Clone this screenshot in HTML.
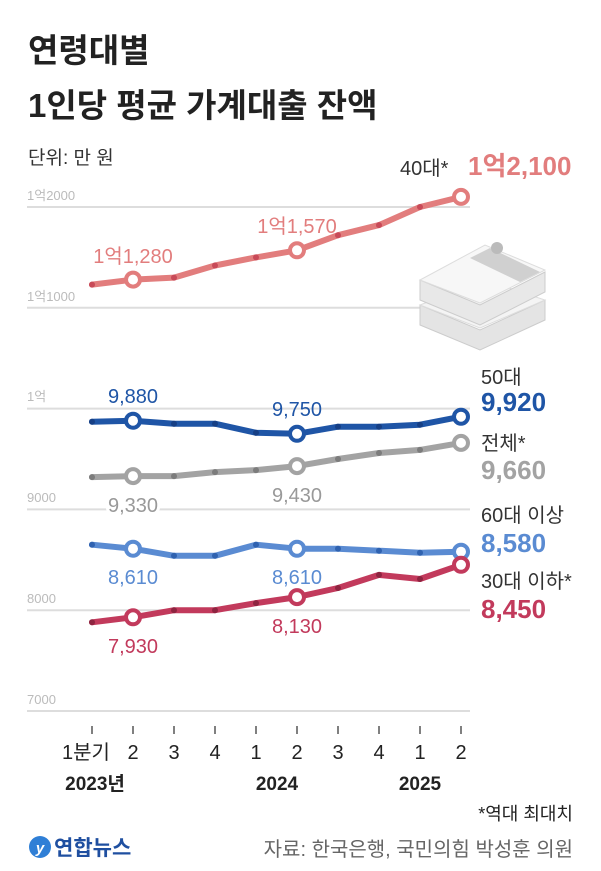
<!DOCTYPE html>
<html><head><meta charset="utf-8"><style>
body{margin:0;background:#fff;}
svg{display:block;font-family:"Liberation Sans","Noto Sans CJK KR",sans-serif;}
</style></head><body>
<svg width="601" height="871" viewBox="0 0 601 871">
<text x="28" y="62" font-size="33" font-weight="bold" fill="#222">연령대별</text>
<text x="28" y="117" font-size="33" font-weight="bold" fill="#222">1인당 평균 가계대출 잔액</text>
<text x="28" y="164" font-size="19" fill="#333">단위: 만 원</text>
<g stroke="#ddd" stroke-width="2">
<line x1="27" y1="207" x2="470" y2="207"/><line x1="27" y1="307.8" x2="420" y2="307.8"/>
<line x1="27" y1="408.6" x2="470" y2="408.6"/><line x1="27" y1="509.4" x2="470" y2="509.4"/>
<line x1="27" y1="610.2" x2="470" y2="610.2"/><line x1="27" y1="711" x2="470" y2="711"/>
</g>
<g font-size="13" fill="#bbb">
<text x="27" y="200">1억2000</text><text x="27" y="301">1억1000</text><text x="27" y="401">1억</text>
<text x="27" y="502">9000</text><text x="27" y="603">8000</text><text x="27" y="704">7000</text>
</g>
<!-- money icon -->
<g>
<polygon points="420,305 480,330 545,300 545,320 480,350 420,325" fill="#e4e4e4" stroke="#ccc"/>
<polygon points="420,305 485,280 545,300 480,328" fill="#f4f4f4" stroke="#ddd"/>
<polygon points="420,280 480,305 545,272 545,292 480,325 420,300" fill="#e8e8e8" stroke="#ccc"/>
<polygon points="420,280 485,245 545,270 480,303" fill="#f7f7f7" stroke="#ddd"/>
<polygon points="470,258 490,248 540,272 520,282" fill="#d0d0d0"/>
<circle cx="497" cy="248" r="6" fill="#bbb"/>
</g>
<g fill="none" stroke-width="6" stroke-linejoin="round" stroke-linecap="round">
<polyline stroke="#e27d7d" points="92,284.6 133,279.6 174,277.6 215,265.5 256,257.4 297,250.3 338,235.2 379,225.1 420,207 461,196.9"/>
<polyline stroke="#1f55a6" points="92,421.7 133,420.7 174,423.7 215,423.7 256,432.8 297,433.8 338,426.7 379,426.7 420,424.7 461,416.7"/>
<polyline stroke="#a3a3a3" points="92,477.1 133,476.1 174,476.1 215,472.1 256,470.1 297,466.1 338,459 379,453 420,449.9 461,442.9"/>
<polyline stroke="#5a8bd2" points="92,544.7 133,548.7 174,555.8 215,555.8 256,544.7 297,548.7 338,548.7 379,550.7 420,552.7 461,551.7"/>
<polyline stroke="#c23a5c" points="92,622.3 133,617.3 174,610.2 215,610.2 256,603.1 297,597.1 338,588 379,574.9 420,579 461,564.8"/>
</g>
<g r="3">
<g fill="#c84a58"><circle cx="92" cy="284.6" r="3"/><circle cx="174" cy="277.6" r="3"/><circle cx="215" cy="265.5" r="3"/><circle cx="256" cy="257.4" r="3"/><circle cx="338" cy="235.2" r="3"/><circle cx="379" cy="225.1" r="3"/><circle cx="420" cy="207" r="3"/></g>
<g fill="#163f85"><circle cx="92" cy="421.7" r="3"/><circle cx="174" cy="423.7" r="3"/><circle cx="215" cy="423.7" r="3"/><circle cx="256" cy="432.8" r="3"/><circle cx="338" cy="426.7" r="3"/><circle cx="379" cy="426.7" r="3"/><circle cx="420" cy="424.7" r="3"/></g>
<g fill="#7c7c7c"><circle cx="92" cy="477.1" r="3"/><circle cx="174" cy="476.1" r="3"/><circle cx="215" cy="472.1" r="3"/><circle cx="256" cy="470.1" r="3"/><circle cx="338" cy="459" r="3"/><circle cx="379" cy="453" r="3"/><circle cx="420" cy="449.9" r="3"/></g>
<g fill="#2f62b0"><circle cx="92" cy="544.7" r="3"/><circle cx="174" cy="555.8" r="3"/><circle cx="215" cy="555.8" r="3"/><circle cx="256" cy="544.7" r="3"/><circle cx="338" cy="548.7" r="3"/><circle cx="379" cy="550.7" r="3"/><circle cx="420" cy="552.7" r="3"/></g>
<g fill="#8e2440"><circle cx="92" cy="622.3" r="3"/><circle cx="174" cy="610.2" r="3"/><circle cx="215" cy="610.2" r="3"/><circle cx="256" cy="603.1" r="3"/><circle cx="338" cy="588" r="3"/><circle cx="379" cy="574.9" r="3"/><circle cx="420" cy="579" r="3"/></g>
</g>
<g fill="#fff" stroke-width="4">
<g stroke="#e27d7d"><circle cx="133" cy="279.6" r="7"/><circle cx="297" cy="250.3" r="7"/><circle cx="461" cy="196.9" r="7"/></g>
<g stroke="#1f55a6"><circle cx="133" cy="420.7" r="7"/><circle cx="297" cy="433.8" r="7"/><circle cx="461" cy="416.7" r="7"/></g>
<g stroke="#a3a3a3"><circle cx="133" cy="476.1" r="7"/><circle cx="297" cy="466.1" r="7"/><circle cx="461" cy="442.9" r="7"/></g>
<g stroke="#5a8bd2"><circle cx="133" cy="548.7" r="7"/><circle cx="297" cy="548.7" r="7"/><circle cx="461" cy="551.7" r="7"/></g>
<g stroke="#c23a5c"><circle cx="133" cy="617.3" r="7"/><circle cx="297" cy="597.1" r="7"/><circle cx="461" cy="564.8" r="7"/></g>
</g>
<g font-size="20" text-anchor="middle">
<text x="133" y="263" fill="#e27d7d">1억1,280</text>
<text x="297" y="233" fill="#e27d7d">1억1,570</text>
<text x="133" y="403" fill="#1f55a6">9,880</text>
<text x="297" y="416" fill="#1f55a6">9,750</text>
<text x="133" y="512" fill="#999" stroke="#fff" stroke-width="6" paint-order="stroke">9,330</text>
<text x="297" y="502" fill="#999" stroke="#fff" stroke-width="6" paint-order="stroke">9,430</text>
<text x="133" y="584" fill="#5a8bd2">8,610</text>
<text x="297" y="584" fill="#5a8bd2">8,610</text>
<text x="133" y="653" fill="#c23a5c">7,930</text>
<text x="297" y="633" fill="#c23a5c">8,130</text>
</g>
<text x="400" y="175" font-size="20" fill="#333">40대*</text>
<text x="468" y="175" font-size="26" font-weight="bold" fill="#e27d7d">1억2,100</text>
<g font-size="20" fill="#333">
<text x="481" y="384">50대</text><text x="481" y="450">전체*</text>
<text x="481" y="522">60대 이상</text><text x="481" y="588">30대 이하*</text>
</g>
<g font-size="26" font-weight="bold">
<text x="481" y="411" fill="#1f55a6">9,920</text>
<text x="481" y="479" fill="#a3a3a3">9,660</text>
<text x="481" y="552" fill="#5a8bd2">8,580</text>
<text x="481" y="618" fill="#c23a5c">8,450</text>
</g>
<g stroke="#555" stroke-width="1.5">
<line x1="92" y1="726" x2="92" y2="734"/><line x1="133" y1="726" x2="133" y2="734"/><line x1="174" y1="726" x2="174" y2="734"/><line x1="215" y1="726" x2="215" y2="734"/><line x1="256" y1="726" x2="256" y2="734"/><line x1="297" y1="726" x2="297" y2="734"/><line x1="338" y1="726" x2="338" y2="734"/><line x1="379" y1="726" x2="379" y2="734"/><line x1="420" y1="726" x2="420" y2="734"/><line x1="461" y1="726" x2="461" y2="734"/>
</g>
<g font-size="20" fill="#222" text-anchor="middle">
<text x="86" y="759">1분기</text><text x="133" y="759">2</text><text x="174" y="759">3</text><text x="215" y="759">4</text><text x="256" y="759">1</text><text x="297" y="759">2</text><text x="338" y="759">3</text><text x="379" y="759">4</text><text x="420" y="759">1</text><text x="461" y="759">2</text>
</g>
<g font-size="19" font-weight="bold" fill="#222" text-anchor="middle">
<text x="95" y="790">2023년</text><text x="277" y="790">2024</text><text x="420" y="790">2025</text>
</g>
<text x="573" y="820" font-size="18" fill="#222" text-anchor="end">*역대 최대치</text>
<circle cx="40" cy="847" r="11" fill="#2f7fd6"/>
<text x="40" y="853" font-size="15" font-weight="bold" fill="#fff" text-anchor="middle" font-style="italic">y</text>
<text x="54" y="855" font-size="21" font-weight="bold" fill="#1f4fa0">연합뉴스</text>
<text x="573" y="856" font-size="20" fill="#666" text-anchor="end">자료: 한국은행, 국민의힘 박성훈 의원</text>
</svg>
</body></html>
